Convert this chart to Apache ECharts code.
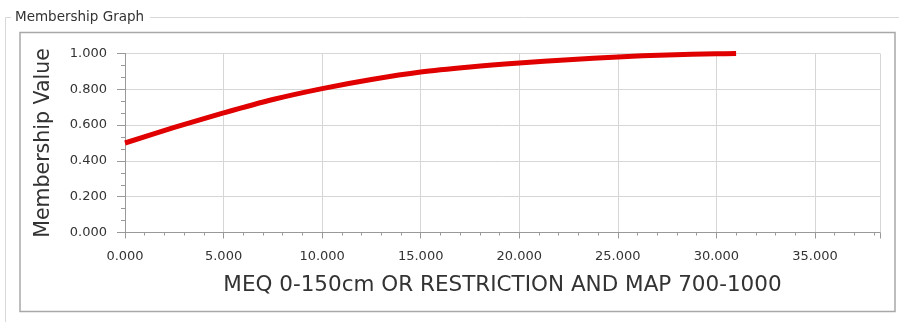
<!DOCTYPE html>
<html>
<head>
<meta charset="utf-8">
<script src="https://cdn.jsdelivr.net/npm/echarts@6/dist/echarts.min.js"></script>
<style>
html,body{margin:0;padding:0;background:#ffffff;}
#chart{width:899px;height:322px;}
</style>
</head>
<body>
<div id="chart"></div>
<script>
// Data
var xValues = [0, 2.5, 5, 7.5, 10, 12.5, 15, 17.5, 20, 22.5, 25, 27.5, 30, 31];
var membership = [0.500, 0.587, 0.668, 0.743, 0.804, 0.855, 0.897, 0.925, 0.947, 0.965, 0.981, 0.992, 0.998, 1.000];
var groupTitle = 'Membership Graph';
var xAxisTitle = 'MEQ 0-150cm OR RESTRICTION AND MAP 700-1000';
var yAxisTitle = 'Membership Value';
var xMin = 0, xMax = 38.3, xStep = 5;
var yMin = 0, yMax = 1, yStep = 0.2;

var points = xValues.map(function (x, i) { return [x, membership[i]]; });

var chart = echarts.init(document.getElementById('chart'), null, {renderer: 'canvas'});
var font = 'DejaVu Sans';
chart.setOption({
  animation: false,
  backgroundColor: '#ffffff',
  graphic: [
    {type: 'polyline', shape: {points: [[11, 17.5], [5.5, 17.5], [5.5, 322]]}, style: {stroke: '#d8d8d8', lineWidth: 1, fill: null}, silent: true},
    {type: 'line', shape: {x1: 150, y1: 17.5, x2: 899, y2: 17.5}, style: {stroke: '#d8d8d8', lineWidth: 1}, silent: true},
    {type: 'text', left: 15, top: 10, style: {text: groupTitle, font: '13.5px "DejaVu Sans"', fill: '#333333'}, silent: true},
    {type: 'rect', shape: {x: 20, y: 32.5, width: 875, height: 279}, style: {stroke: '#a8a8a8', lineWidth: 1.5, fill: null}, silent: true, z: -1}
  ],
  grid: {left: 125, right: 19, top: 53.5, bottom: 89.5, containLabel: false},
  xAxis: {
    type: 'value', min: xMin, max: xMax, interval: xStep,
    name: xAxisTitle, nameLocation: 'middle', nameGap: 42,
    nameTextStyle: {fontFamily: font, fontSize: 21.5, color: '#333333'},
    axisLine: {show: true, lineStyle: {color: '#999999', width: 1}},
    axisTick: {show: true, inside: false, length: 6, lineStyle: {color: '#999999'}},
    minorTick: {show: true, splitNumber: 5, length: 3, lineStyle: {color: '#999999'}},
    axisLabel: {fontFamily: font, fontSize: 13, color: '#333333', margin: 18, showMaxLabel: false,
      formatter: function (v) { return v.toFixed(3); }},
    splitLine: {show: true, lineStyle: {color: '#d6d6d6', width: 1}}
  },
  yAxis: {
    type: 'value', min: yMin, max: yMax, interval: yStep,
    name: yAxisTitle, nameLocation: 'middle', nameGap: 71, nameRotate: 90,
    nameTextStyle: {fontFamily: font, fontSize: 20.5, color: '#333333'},
    axisLine: {show: true, lineStyle: {color: '#999999', width: 1}},
    axisTick: {show: true, inside: false, length: 8, lineStyle: {color: '#999999'}},
    minorTick: {show: true, splitNumber: 3, length: 4, lineStyle: {color: '#999999'}},
    axisLabel: {fontFamily: font, fontSize: 13, color: '#333333', margin: 18,
      formatter: function (v) { return v.toFixed(3); }},
    splitLine: {show: true, lineStyle: {color: '#d6d6d6', width: 1}}
  },
  series: [{
    type: 'line', data: points, showSymbol: false, symbol: 'none',
    smooth: 0.3, clip: true,
    lineStyle: {color: '#e00000', width: 5}
  }]
});
</script>
</body>
</html>
